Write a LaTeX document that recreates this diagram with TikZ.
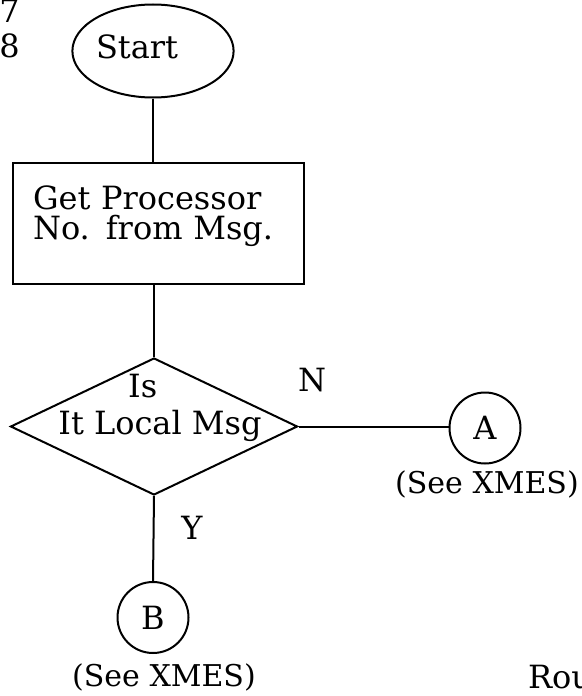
\documentclass[tikz,border=0pt]{standalone}
\usepackage{fontspec}
\setmainfont{DejaVu Serif}
\usepackage{tikz}
\usetikzlibrary{shapes.geometric}

\begin{document}
\begin{tikzpicture}[x=1pt, y=-1pt, line width=2pt,
        every node/.style={font=\fontsize{32}{30}\selectfont},
        terminal/.style={draw, ellipse, minimum width=161pt, minimum height=93pt, inner xsep=0pt, text width=114pt, align=left},
        process/.style={draw, rectangle, anchor=north west, inner xsep=20pt, inner ysep=22.3pt, text width=251pt, align=left},
        decision/.style={draw, diamond, minimum width=287pt, minimum height=137pt, inner sep=0pt},
        connector/.style={draw, circle, minimum size=71pt, inner sep=0pt},
        note/.style={font=\fontsize{30}{30}\selectfont}]
        \useasboundingbox (0,0) rectangle (581,696);

        \node [anchor=base] (seven) at (9.5,22) {7};
        \node [anchor=base] (eight) at (9.5,57) {8};

        \node [terminal, text depth=9.7pt] (start) at (153,51) {Start};
        \node [process, text depth=52.7pt] (getproc) at (12,162) {Get Processor\\No. from Msg.};
        \node [decision] (local) at (154,426.5) {};
        \node [align=center] (localtext) at (160,407.6) {Is\hspace*{34.6pt}\\[7pt]It Local Msg};

        \node [connector] (A) at (485,428) {A};
        \node [note, anchor=base] (seeA) at (487,493) {(See XMES)};
        \node [connector] (B) at (153,617.5) {B};
        \node [note, anchor=base] (seeB) at (164,686) {(See XMES)};

        \node [anchor=base] (no) at (312,391) {N};
        \node [anchor=base] (yes) at (192,539) {Y};
        \node [anchor=base west, inner sep=0pt] (rou) at (527,688) {Rou};

        \draw (start.south) -- (start.south |- getproc.north);
        \draw (local.north) -- (local.north |- getproc.south);
        \draw (local.east) -- (local.east -| A.west);
        \draw (local.south) -- (B.north);
    \end{tikzpicture}
\end{document}
